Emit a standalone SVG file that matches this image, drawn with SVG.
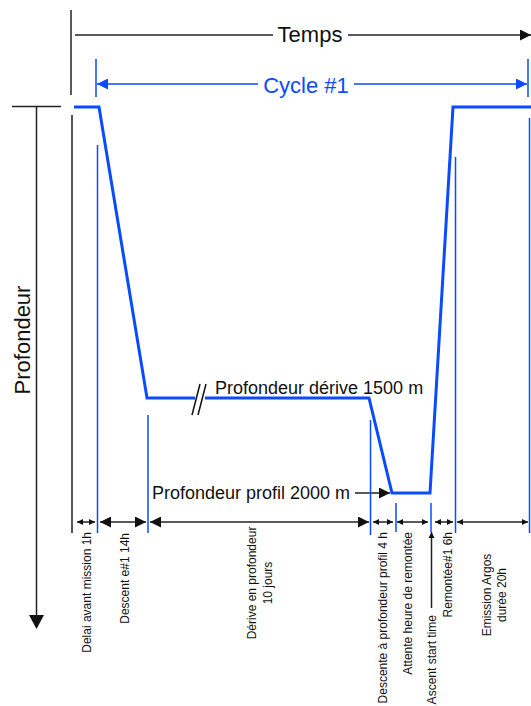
<svg xmlns="http://www.w3.org/2000/svg" width="531" height="706" viewBox="0 0 531 706">
<style>
.k{stroke:#222;stroke-width:1.5;fill:none}
.b{stroke:#0a4bff;stroke-width:1.5;fill:none}
.p{stroke:#0a4bff;stroke-width:3;fill:none;stroke-linejoin:miter}
.t{font-family:"Liberation Sans",Arial,sans-serif;fill:#111}
.big{font-size:22px}
.mid{font-size:18px}
.sm{font-size:12px}
.blue{fill:#0a4bff}
</style>
<defs>
<marker id="ak" viewBox="0 0 10 10" refX="10" refY="5" markerWidth="12" markerHeight="11" markerUnits="userSpaceOnUse" orient="auto-start-reverse"><path d="M0,0L10,5L0,10z" fill="#111"/></marker>
<marker id="as" viewBox="0 0 10 10" refX="10" refY="5" markerWidth="6" markerHeight="7" markerUnits="userSpaceOnUse" orient="auto-start-reverse"><path d="M0,0L10,5L0,10z" fill="#111"/></marker>
<marker id="ab" viewBox="0 0 10 10" refX="10" refY="5" markerWidth="11" markerHeight="11" markerUnits="userSpaceOnUse" orient="auto-start-reverse"><path d="M0,0L10,5L0,10z" fill="#0a4bff"/></marker>
</defs>

<g id="axes">
<line class="k" x1="71" y1="10" x2="71" y2="95"/>
<line class="k" x1="72" y1="115" x2="72" y2="533"/>
<line class="k" x1="12" y1="106.5" x2="61" y2="106.5"/>
<line class="k" x1="36.5" y1="107" x2="36.5" y2="616"/>
<polygon points="29,615 44,615 36.5,629" fill="#111"/>
<text class="t big" transform="translate(30,340) rotate(-90)" text-anchor="middle">Profondeur</text>
</g>

<g id="temps">
<line class="k" x1="75" y1="35" x2="273" y2="35"/>
<line class="k" x1="348" y1="35" x2="531" y2="35" marker-end="url(#ak)"/>
<text class="t big" x="310" y="42" text-anchor="middle">Temps</text>
</g>

<g id="cycle">
<line class="b" x1="96" y1="59" x2="96" y2="97"/>
<line class="b" x1="528" y1="59" x2="528" y2="97"/>
<line class="b" x1="258" y1="84" x2="97" y2="84" marker-end="url(#ab)"/>
<line class="b" x1="354" y1="84" x2="527" y2="84" marker-end="url(#ab)"/>
<text class="t big blue" x="306" y="93" text-anchor="middle">Cycle #1</text>
</g>

<g id="profile">
<polyline class="p" points="74,107 99,107 147,398 195,398"/>
<polyline class="p" points="205,398 369,398 392,493 430,493 453,107 531,107"/>
<line x1="192" y1="415" x2="200" y2="384" stroke="#111" stroke-width="1.5"/>
<line x1="198" y1="415" x2="206" y2="384" stroke="#111" stroke-width="1.5"/>
<text class="t mid" x="215" y="394">Profondeur dérive 1500 m</text>
<text class="t mid" x="152" y="499">Profondeur profil 2000 m</text>
<line class="k" x1="355" y1="493" x2="390" y2="493" marker-end="url(#ak)"/>
</g>

<g id="phase-lines">
<line class="b" x1="97.5" y1="145" x2="97.5" y2="533"/>
<line class="b" x1="148" y1="415" x2="148" y2="533"/>
<line class="b" x1="370.5" y1="420" x2="370.5" y2="535"/>
<line class="b" x1="396" y1="503" x2="396" y2="532"/>
<line class="b" x1="431" y1="503" x2="431" y2="532"/>
<line class="b" x1="455.5" y1="157" x2="455.5" y2="533"/>
<line class="b" x1="529.5" y1="118" x2="529.5" y2="533"/>
</g>

<g id="connectors">
<line class="k" x1="77" y1="522" x2="95" y2="522" marker-start="url(#as)" marker-end="url(#as)"/>
<line class="k" x1="100" y1="522" x2="146" y2="522" marker-start="url(#ak)" marker-end="url(#ak)"/>
<line class="k" x1="150" y1="522" x2="369" y2="522" marker-start="url(#ak)" marker-end="url(#ak)"/>
<line class="k" x1="373" y1="522" x2="393" y2="522" marker-start="url(#as)" marker-end="url(#as)"/>
<line class="k" x1="397" y1="522" x2="428" y2="522" marker-start="url(#as)" marker-end="url(#as)"/>
<line class="k" x1="435" y1="522" x2="453" y2="522" marker-start="url(#as)" marker-end="url(#as)"/>
<line class="k" x1="457" y1="522" x2="528" y2="522" marker-start="url(#as)" marker-end="url(#as)"/>
<line class="k" x1="431.5" y1="608" x2="431.5" y2="532" marker-end="url(#as)"/>
</g>

<g id="labels">
<text class="t sm" transform="translate(91,532) rotate(-90)" text-anchor="end">Delai avant mission 1h</text>
<text class="t sm" transform="translate(129,533) rotate(-90)" text-anchor="end">Descent e#1 14h</text>
<text class="t sm" transform="translate(256,583) rotate(-90)" text-anchor="middle">Dérive en profondeur</text>
<text class="t sm" transform="translate(272,583) rotate(-90)" text-anchor="middle">10 jours</text>
<text class="t sm" transform="translate(387,532) rotate(-90)" text-anchor="end">Descente à profondeur profil 4 h</text>
<text class="t sm" transform="translate(412,532) rotate(-90)" text-anchor="end">Attente heure de remontée</text>
<text class="t sm" transform="translate(436,615) rotate(-90)" text-anchor="end">Ascent start time</text>
<text class="t sm" transform="translate(452,532) rotate(-90)" text-anchor="end">Remontée#1 6h</text>
<text class="t sm" transform="translate(491,595) rotate(-90)" text-anchor="middle">Emission Argos</text>
<text class="t sm" transform="translate(506,595) rotate(-90)" text-anchor="middle">durée 20h</text>
</g>
</svg>
